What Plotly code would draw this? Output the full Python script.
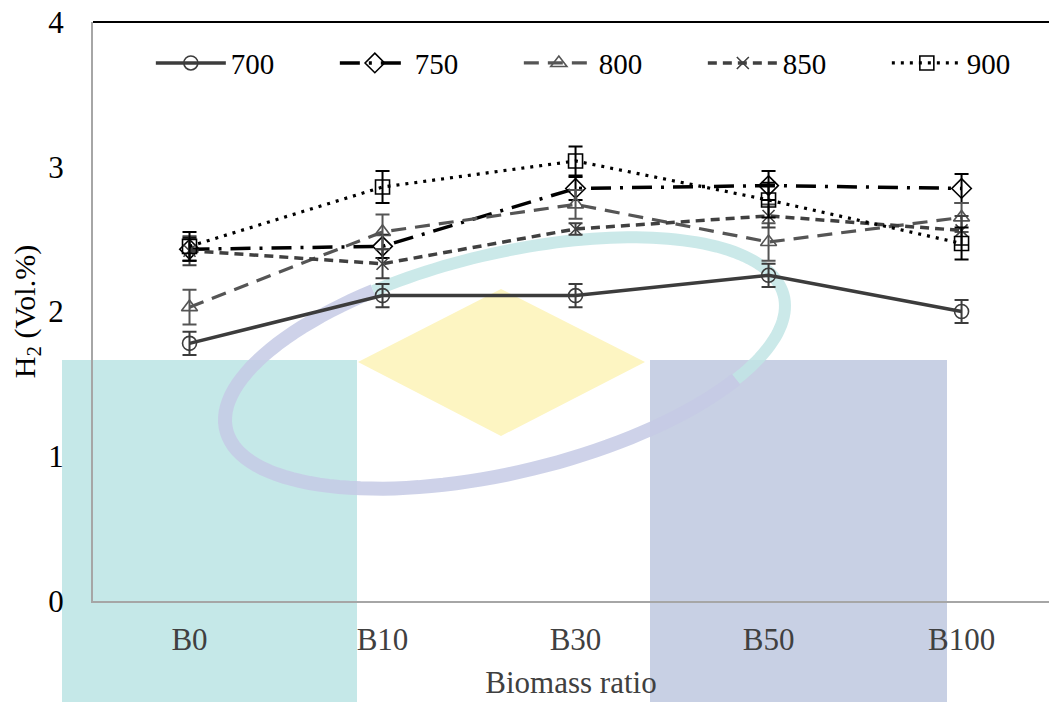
import numpy as np
import plotly.graph_objects as go

# ---------------- data ----------------
categories = ["B0", "B10", "B30", "B50", "B100"]
series_names = ["700", "750", "800", "850", "900"]

h2_700 = [1.78, 2.11, 2.11, 2.25, 2.00]
h2_750 = [2.43, 2.45, 2.85, 2.87, 2.85]
h2_800 = [2.03, 2.55, 2.74, 2.48, 2.65]
h2_850 = [2.42, 2.33, 2.57, 2.66, 2.56]
h2_900 = [2.45, 2.86, 3.04, 2.77, 2.47]

err_700 = [0.08, 0.08, 0.08, 0.08, 0.08]
err_750 = [0.08, 0.08, 0.08, 0.10, 0.10]
err_800 = [0.12, 0.12, 0.10, 0.13, 0.10]
err_850 = [0.10, 0.10, 0.04, 0.08, 0.10]
err_900 = [0.10, 0.11, 0.10, 0.12, 0.11]

y_ticks = [0, 1, 2, 3, 4]
y_ticktext = ["0", "1", "2", "3", "4"]

# ---------------- styles ----------------
W, H = 1049, 702
ML, MR, MT, MB = 93, 0, 22, 101
PW, PH = W - ML - MR, H - MT - MB

styles = [
    dict(color="#3c3c3c", dash="solid", symbol="circle-open", size=14, width=3.5),
    dict(color="#000000", dash="20px,9px,3px,9px", symbol="diamond-open", size=15, width=3.5),
    dict(color="#555555", dash="15px,9px", symbol="triangle-up-open", size=14, width=3.2),
    dict(color="#404040", dash="9px,6px", symbol="x-thin-open", size=12, width=3.5),
    dict(color="#000000", dash="3px,6px", symbol="square-open", size=14, width=3.2),
]
values = [h2_700, h2_750, h2_800, h2_850, h2_900]
errors = [err_700, err_750, err_800, err_850, err_900]

fig = go.Figure()
for name, vals, errs, st in zip(series_names, values, errors, styles):
    fig.add_trace(go.Scatter(
        x=categories, y=vals, name=name, mode="lines+markers",
        line=dict(color=st["color"], dash=st["dash"], width=st["width"]),
        marker=dict(symbol=st["symbol"], size=st["size"], color=st["color"],
                    line=dict(color=st["color"], width=1.6)),
        error_y=dict(type="data", array=errs, visible=True, color=st["color"],
                     thickness=2, width=7),
    ))

# ---------------- watermark (decorative background) ----------------
def px2paper(px, py):
    return (px - ML) / PW, (H - MB - py) / PH

def rect(x0, y0, x1, y1, color):
    a = px2paper(x0, y0); b = px2paper(x1, y1)
    return dict(type="rect", xref="paper", yref="paper", x0=a[0], y0=b[1], x1=b[0], y1=a[1],
                fillcolor=color, line=dict(width=0), layer="below")

shapes = []
shapes.append(rect(62, 360, 357, 702, "#c5e8e8"))
shapes.append(rect(650, 360, 947, 702, "#c8d0e4"))
dpts = [px2paper(358, 362), px2paper(501, 289), px2paper(645, 362), px2paper(501, 436)]
dpath = "M " + " L ".join(f"{p[0]:.4f},{p[1]:.4f}" for p in dpts) + " Z"
shapes.append(dict(type="path", xref="paper", yref="paper", path=dpath,
                   fillcolor="#fdf5c2", line=dict(width=0), layer="below"))

def arc(t0, t1, color, width):
    t = np.linspace(t0, t1, 80)
    xs = 505 + 280 * np.cos(t)
    ys = 363 - 57 * np.cos(t) + 112 * np.sin(t)
    pts = [px2paper(a, b) for a, b in zip(xs, ys)]
    p = "M " + " L ".join(f"{q[0]:.4f},{q[1]:.4f}" for q in pts)
    return dict(type="path", xref="paper", yref="paper", path=p,
                line=dict(color=color, width=width), opacity=0.85, layer="below")

shapes.append(arc(0.6, 2 * np.pi - 2.06, "#c6cbe6", 14))
shapes.append(arc(-2.06, 0.6, "#c2e6e6", 12))

# top border line
shapes.append(dict(type="line", xref="paper", yref="paper", x0=0, x1=1, y0=1, y1=1,
                   line=dict(color="#000000", width=2), layer="above"))

serif = "Liberation Serif"

fig.update_layout(
    width=W, height=H,
    margin=dict(l=ML, r=MR, t=MT, b=MB, autoexpand=False),
    paper_bgcolor="white", plot_bgcolor="rgba(0,0,0,0)",
    font=dict(family=serif, color="#000000"),
    shapes=shapes,
    showlegend=True,
    legend=dict(orientation="h", x=0.0605, y=0.929, xanchor="left", yanchor="middle",
                font=dict(family=serif, size=29, color="#000000"),
                bgcolor="rgba(0,0,0,0)", itemwidth=70, entrywidth=99,
                entrywidthmode="pixels", tracegroupgap=0),
    xaxis=dict(type="category", range=[-0.5, 4.453], showgrid=False, zeroline=False,
               showline=True, linecolor="#a6a6a6", linewidth=2, ticks="",
               tickfont=dict(family=serif, size=31, color="#404040"),
               ticklabelstandoff=10,
               title=dict(text="Biomass ratio", font=dict(family=serif, size=31, color="#404040"),
                          standoff=15)),
    yaxis=dict(range=[0, 4], tickvals=y_ticks, ticktext=y_ticktext, showgrid=False,
               zeroline=False, showline=True, linecolor="#a6a6a6", linewidth=2, ticks="",
               tickfont=dict(family=serif, size=31, color="#000000"),
               ticklabelstandoff=21,
               title=dict(text="H<sub>2</sub> (Vol.%)", font=dict(family=serif, size=30, color="#000000"),
                          standoff=4)),
)

fig.write_html(
    "out.html",
    config={"displayModeBar": False},
    post_script="document.body.style.margin='0';document.body.style.overflow='hidden';",
)
